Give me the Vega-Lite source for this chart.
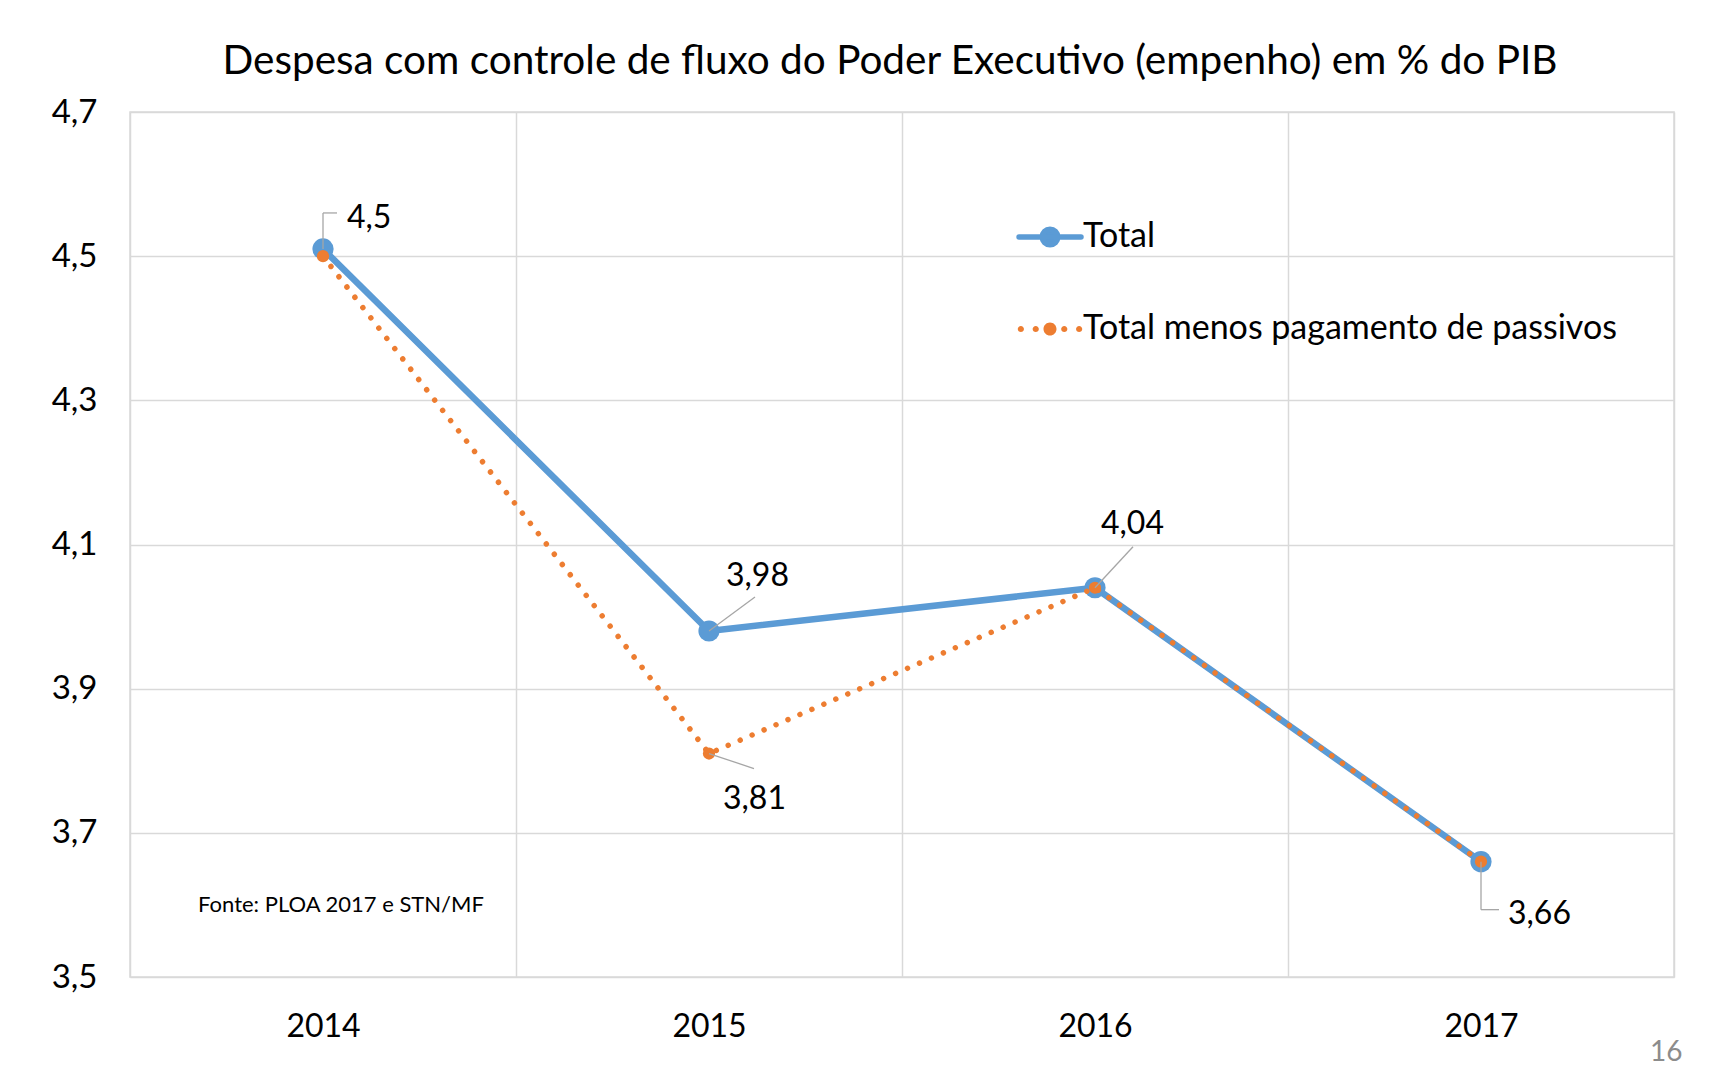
{
  "$schema": "https://vega.github.io/schema/vega-lite/v6.json",
  "autosize": {"type": "none"},
  "width": 1544,
  "height": 865,
  "padding": {"left": 130, "top": 112, "right": 52, "bottom": 98},
  "background": "white",
  "title": {
    "text": "Despesa com controle de fluxo do Poder Executivo (empenho) em % do PIB",
    "fontSize": 40.5,
    "fontWeight": "normal",
    "color": "#000000",
    "font": "Lato",
    "offset": 14,
    "dx": -12
  },
  "data": {
    "values": [
      {"year": "2014", "series": "Total", "value": 4.51, "label": "4,5"},
      {"year": "2015", "series": "Total", "value": 3.98, "label": "3,98"},
      {"year": "2016", "series": "Total", "value": 4.04, "label": "4,04"},
      {"year": "2017", "series": "Total", "value": 3.66, "label": "3,66"},
      {"year": "2014", "series": "Total menos pagamento de passivos", "value": 4.50, "label": "4,5"},
      {"year": "2015", "series": "Total menos pagamento de passivos", "value": 3.81, "label": "3,81"},
      {"year": "2016", "series": "Total menos pagamento de passivos", "value": 4.04, "label": "4,04"},
      {"year": "2017", "series": "Total menos pagamento de passivos", "value": 3.66, "label": "3,66"}
    ]
  },
  "encoding": {
    "x": {
      "field": "year",
      "type": "ordinal",
      "bandPosition": 0.5,
      "scale": {"type": "band", "paddingInner": 0, "paddingOuter": 0},
      "axis": {
        "title": "16",
        "titleAnchor": "end",
        "titleAlign": "right",
        "titleX": 1552,
        "titleFontSize": 28,
        "titleColor": "#8c8c8c",
        "titleFontWeight": "normal",
        "titlePadding": -4,
        "labelAngle": 0,
        "labelFontSize": 32,
        "labelColor": "#000000",
        "labelPadding": 34,
        "ticks": false,
        "domain": false,
        "grid": true,
        "tickBand": "extent",
        "gridColor": "#d9d9d9",
        "gridWidth": 1.5
      }
    },
    "y": {
      "field": "value",
      "type": "quantitative",
      "scale": {"domain": [3.5, 4.7], "nice": false, "zero": false},
      "axis": {
        "title": null,
        "values": [3.5, 3.7, 3.9, 4.1, 4.3, 4.5, 4.7],
        "labelExpr": "replace(format(datum.value, '.1f'), '.', ',')",
        "labelFontSize": 33,
        "labelColor": "#000000",
        "labelPadding": 33,
        "ticks": false,
        "domain": false,
        "gridColor": "#d9d9d9",
        "gridWidth": 1.5
      }
    }
  },
  "layer": [
    {
      "transform": [{"filter": "datum.series === 'Total'"}],
      "mark": {"type": "line", "strokeWidth": 6.5, "strokeCap": "round", "strokeJoin": "round"},
      "encoding": {
        "color": {
          "field": "series",
          "type": "nominal",
          "scale": {"domain": ["Total", "Total menos pagamento de passivos"], "range": ["#5B9BD5", "#ED7D31"]},
          "legend": {
            "title": null,
            "orient": "none",
            "legendX": 903,
            "legendY": 108,
            "padding": 0,
            "direction": "vertical",
            "labelFontSize": 34,
            "labelColor": "#000000",
            "labelOffset": 16,
            "labelLimit": 800,
            "rowPadding": 56,
            "symbolSize": 3844,
            "encode": {
              "symbols": {
                "update": {
                  "shape": {"signal": "datum.value === 'Total' ? 'M-1,0L1,0M0.25,0A0.25,0.25,0,1,1,-0.25,0A0.25,0.25,0,1,1,0.25,0Z' : 'M0.21,0A0.21,0.21,0,1,1,-0.21,0A0.21,0.21,0,1,1,0.21,0ZM-0.36,0A0.1,0.1,0,1,1,-0.56,0A0.1,0.1,0,1,1,-0.36,0ZM-0.84,0A0.1,0.1,0,1,1,-1.04,0A0.1,0.1,0,1,1,-0.84,0ZM0.56,0A0.1,0.1,0,1,1,0.36,0A0.1,0.1,0,1,1,0.56,0ZM1.04,0A0.1,0.1,0,1,1,0.84,0A0.1,0.1,0,1,1,1.04,0Z'"},
                  "fill": {"scale": "color", "field": "value"},
                  "stroke": {"scale": "color", "field": "value"},
                  "strokeWidth": {"signal": "datum.value === 'Total' ? 5.5 : 0"},
                  "strokeCap": {"value": "round"},
                  "opacity": {"value": 1}
                }
              }
            }
          }
        }
      }
    },
    {
      "transform": [{"filter": "datum.series === 'Total'"}],
      "mark": {"type": "point", "filled": true, "size": 450, "opacity": 1},
      "encoding": {"color": {"field": "series", "type": "nominal"}}
    },
    {
      "transform": [{"filter": "datum.series !== 'Total'"}],
      "mark": {"type": "line", "strokeWidth": 5.5, "strokeDash": [0.01, 13], "strokeCap": "round"},
      "encoding": {"color": {"field": "series", "type": "nominal"}}
    },
    {
      "transform": [{"filter": "datum.series !== 'Total'"}],
      "mark": {"type": "point", "filled": true, "size": 150, "opacity": 1},
      "encoding": {"color": {"field": "series", "type": "nominal"}}
    },
    {
      "transform": [{"filter": "datum.series === 'Total' && datum.year === '2014'"}],
      "mark": {"type": "rule", "color": "#a6a6a6", "strokeWidth": 1.3, "y2Offset": -36},
      "encoding": {"x2": {"field": "year"}, "y2": {"field": "value"}}
    },
    {
      "transform": [{"filter": "datum.series === 'Total' && datum.year === '2014'"}],
      "mark": {"type": "rule", "color": "#a6a6a6", "strokeWidth": 1.3, "yOffset": -36, "y2Offset": -36, "x2Offset": 14},
      "encoding": {"x2": {"field": "year"}, "y2": {"field": "value"}}
    },
    {
      "transform": [{"filter": "datum.series === 'Total' && datum.year === '2015'"}],
      "mark": {"type": "rule", "color": "#a6a6a6", "strokeWidth": 1.3, "x2Offset": 46, "y2Offset": -34},
      "encoding": {"x2": {"field": "year"}, "y2": {"field": "value"}}
    },
    {
      "transform": [{"filter": "datum.series !== 'Total' && datum.year === '2015'"}],
      "mark": {"type": "rule", "color": "#a6a6a6", "strokeWidth": 1.3, "x2Offset": 45, "y2Offset": 15},
      "encoding": {"x2": {"field": "year"}, "y2": {"field": "value"}}
    },
    {
      "transform": [{"filter": "datum.series === 'Total' && datum.year === '2016'"}],
      "mark": {"type": "rule", "color": "#a6a6a6", "strokeWidth": 1.3, "x2Offset": 38, "y2Offset": -41},
      "encoding": {"x2": {"field": "year"}, "y2": {"field": "value"}}
    },
    {
      "transform": [{"filter": "datum.series === 'Total' && datum.year === '2017'"}],
      "mark": {"type": "rule", "color": "#a6a6a6", "strokeWidth": 1.3, "y2Offset": 48},
      "encoding": {"x2": {"field": "year"}, "y2": {"field": "value"}}
    },
    {
      "transform": [{"filter": "datum.series === 'Total' && datum.year === '2017'"}],
      "mark": {"type": "rule", "color": "#a6a6a6", "strokeWidth": 1.3, "yOffset": 48, "y2Offset": 48, "x2Offset": 18},
      "encoding": {"x2": {"field": "year"}, "y2": {"field": "value"}}
    },
    {
      "transform": [{"filter": "datum.series === 'Total' && datum.year === '2014'"}],
      "mark": {"type": "text", "align": "left", "baseline": "middle", "dx": 24, "dy": -31, "fontSize": 32, "color": "#000000"},
      "encoding": {"text": {"field": "label"}}
    },
    {
      "transform": [{"filter": "datum.series === 'Total' && datum.year === '2015'"}],
      "mark": {"type": "text", "align": "left", "baseline": "middle", "dx": 17, "dy": -55, "fontSize": 32, "color": "#000000"},
      "encoding": {"text": {"field": "label"}}
    },
    {
      "transform": [{"filter": "datum.series !== 'Total' && datum.year === '2015'"}],
      "mark": {"type": "text", "align": "left", "baseline": "middle", "dx": 14, "dy": 45, "fontSize": 32, "color": "#000000"},
      "encoding": {"text": {"field": "label"}}
    },
    {
      "transform": [{"filter": "datum.series === 'Total' && datum.year === '2016'"}],
      "mark": {"type": "text", "align": "left", "baseline": "middle", "dx": 6, "dy": -64, "fontSize": 32, "color": "#000000"},
      "encoding": {"text": {"field": "label"}}
    },
    {
      "transform": [{"filter": "datum.series === 'Total' && datum.year === '2017'"}],
      "mark": {"type": "text", "align": "left", "baseline": "middle", "dx": 27, "dy": 52, "fontSize": 32, "color": "#000000"},
      "encoding": {"text": {"field": "label"}}
    },
    {
      "transform": [{"filter": "datum.series === 'Total' && datum.year === '2014'"}],
      "mark": {"type": "text", "align": "center", "baseline": "middle", "dx": 18, "fontSize": 22, "color": "#000000"},
      "encoding": {
        "y": {"datum": 3.6, "type": "quantitative"},
        "text": {"value": "Fonte: PLOA 2017 e STN/MF"}
      }
    }
  ],
  "config": {
    "font": "Lato",
    "view": {"stroke": "#d9d9d9", "strokeWidth": 1.5},
    "text": {"font": "Lato"}
  }
}
